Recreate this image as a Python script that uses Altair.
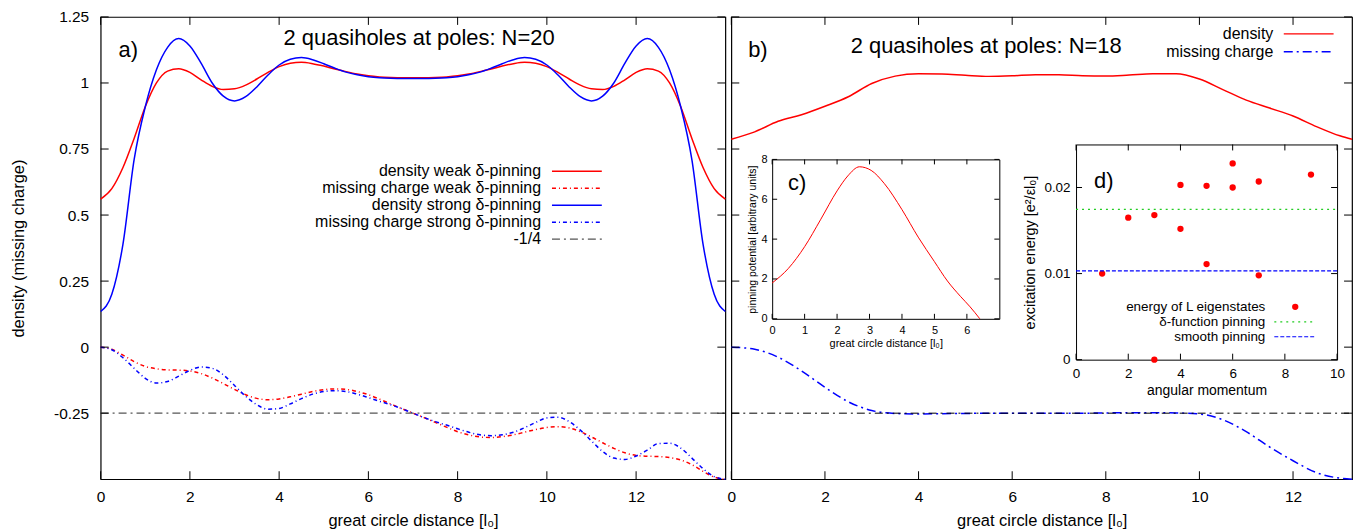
import altair as alt
import pandas as pd

# ---------------- data ----------------
xa = [0, 0.25, 0.5, 0.75, 1.0, 1.25, 1.5, 1.75, 2.0, 2.25, 2.5, 2.75, 3.0, 3.25, 3.5, 3.75,
      4.0, 4.25, 4.5, 4.75, 5.0, 5.25, 5.5, 5.75, 6.0, 6.25, 6.5, 6.75, 7.0, 7.25, 7.5, 7.75,
      8.0, 8.25, 8.5, 8.75, 9.0, 9.25, 9.5, 9.75, 10.0, 10.25, 10.5, 10.75, 11.0, 11.25, 11.5,
      11.75, 12.0, 12.25, 12.5, 12.75, 13.0, 13.25, 13.5, 13.75, 14.0]
dens_weak = [0.56, 0.60, 0.68, 0.79, 0.91, 1.0, 1.045, 1.054, 1.04, 1.012, 0.987, 0.975, 0.978,
             0.992, 1.015, 1.04, 1.062, 1.075, 1.078, 1.073, 1.064, 1.053, 1.043, 1.034, 1.027,
             1.023, 1.021, 1.02, 1.02,
             1.02, 1.021, 1.023, 1.027, 1.034, 1.043, 1.053, 1.064, 1.073, 1.078, 1.075, 1.062,
             1.04, 1.015, 0.992, 0.978, 0.975, 0.987, 1.012, 1.04, 1.054, 1.045, 1.0, 0.91, 0.79,
             0.68, 0.60, 0.56]
dens_strong = [0.135, 0.20, 0.39, 0.71, 0.91, 1.05, 1.135, 1.168, 1.14, 1.075, 1.0, 0.95, 0.932,
               0.948, 0.985, 1.03, 1.068, 1.09, 1.096, 1.088, 1.073, 1.056, 1.041, 1.031, 1.024,
               1.02, 1.018, 1.017, 1.017,
               1.017, 1.018, 1.02, 1.024, 1.031, 1.041, 1.056, 1.073, 1.088, 1.096, 1.09, 1.068,
               1.03, 0.985, 0.948, 0.932, 0.95, 1.0, 1.075, 1.14, 1.168, 1.135, 1.05, 0.91, 0.71,
               0.39, 0.20, 0.135]
mc_weak = [0, -0.008, -0.03, -0.055, -0.073, -0.082, -0.086, -0.087, -0.09, -0.1, -0.117, -0.138,
           -0.16, -0.18, -0.194, -0.199, -0.196, -0.188, -0.178, -0.168, -0.161, -0.158, -0.16,
           -0.168, -0.18, -0.197, -0.215, -0.233, -0.25,
           -0.267, -0.285, -0.303, -0.32, -0.332, -0.34, -0.342, -0.339, -0.332, -0.322, -0.312,
           -0.304, -0.301, -0.306, -0.32, -0.34, -0.362, -0.383, -0.4, -0.41, -0.413, -0.414,
           -0.418, -0.427, -0.445, -0.47, -0.492, -0.5]
mc_strong = [0, -0.01, -0.04, -0.08, -0.118, -0.136, -0.13, -0.11, -0.088, -0.075, -0.08, -0.105,
             -0.145, -0.186, -0.218, -0.235, -0.232, -0.215, -0.195, -0.178, -0.168, -0.165,
             -0.168, -0.178, -0.191, -0.205, -0.218, -0.233, -0.25,
             -0.267, -0.282, -0.295, -0.309, -0.322, -0.332, -0.335, -0.332, -0.322, -0.305,
             -0.285, -0.268, -0.265, -0.282, -0.314, -0.355, -0.395, -0.42, -0.425, -0.412,
             -0.39, -0.365, -0.364, -0.382, -0.42, -0.46, -0.49, -0.5]

xb = [0, 0.5, 1.0, 1.5, 2.0, 2.5, 3.0, 3.5, 4.0, 4.5, 5.0, 5.5, 6.0, 6.5, 7.0, 7.5, 8.0, 8.5,
      9.0, 9.5, 10.0, 10.5, 11.0, 11.5, 12.0, 12.5, 13.0, 13.26]
dens_b = [0.787, 0.815, 0.855, 0.88, 0.912, 0.948, 0.998, 1.026, 1.035, 1.034, 1.029, 1.025,
          1.027, 1.031, 1.031, 1.027, 1.026, 1.03, 1.035, 1.035, 1.015, 0.975, 0.935, 0.905,
          0.875, 0.835, 0.80, 0.787]
mc_b = [0, -0.008, -0.038, -0.09, -0.152, -0.207, -0.24, -0.251, -0.253, -0.252, -0.251, -0.25,
        -0.25, -0.25, -0.25, -0.25, -0.249, -0.248, -0.248, -0.249, -0.253, -0.275, -0.32,
        -0.378, -0.43, -0.475, -0.496, -0.5]

xc = [0, 0.5, 1.0, 1.5, 2.0, 2.33, 2.69, 3.05, 3.46, 4.0, 4.5, 5.0, 5.4, 5.8, 6.1, 6.4]
pin_c = [1.8, 2.53, 3.62, 5.0, 6.42, 7.17, 7.63, 7.45, 6.78, 5.48, 4.1, 2.87, 1.9, 1.13, 0.6, 0.0]

L_d = [1, 2, 3, 3, 4, 4, 5, 5, 6, 6, 7, 7, 9]
E_d = [0.0100, 0.0165, 0.0168, 0.0, 0.0203, 0.0152, 0.0202, 0.0111, 0.0228, 0.0200, 0.0207,
       0.0098, 0.0215]
delta_level = 0.01745
smooth_level = 0.01031
quarter = -0.25

names_a = ["density weak δ-pinning", "missing charge weak δ-pinning",
           "density strong δ-pinning", "missing charge strong δ-pinning", "-1/4"]
names_b = ["density", "missing charge"]
names_d = ["energy of L eigenstates", "δ-function pinning", "smooth pinning"]

YT = [-0.25, 0, 0.25, 0.5, 0.75, 1, 1.25]
XT = [0, 2, 4, 6, 8, 10, 12]
CT = [0, 1, 2, 3, 4, 5, 6]
CY = [0, 2, 4, 6, 8]
DX = [0, 2, 4, 6, 8, 10]
DY = [0, 0.01, 0.02]

# ---------------- helpers ----------------
FONT = "Liberation Sans"
WA, WB, H = 627, 623, 464
RED, BLUE = "#ff0000", "#0000ff"
YDOM = [-0.5, 1.25]


def sc(domain, rng=None):
    if rng is None:
        return alt.Scale(domain=domain, nice=False, zero=False)
    return alt.Scale(domain=domain, range=rng, nice=False, zero=False)


def frame_axis(orient, offset):
    return alt.Axis(orient=orient, offset=offset, labels=False, ticks=False, domain=True,
                    domainColor="black", domainWidth=1, grid=False, title=None)


def label_axis(orient, values, offset, pad, fs, title, tfs, tpad, domain=False):
    return alt.Axis(orient=orient, offset=offset, values=values, labels=True, ticks=False,
                    tickSize=0, domain=domain, domainColor="black", domainWidth=1, grid=False,
                    labelFont=FONT, labelFontSize=fs, labelColor="black", labelPadding=pad,
                    labelFlush=False, labelExpr="toString(datum.value)",
                    title=title, titleFont=FONT, titleFontSize=tfs, titleFontWeight="normal",
                    titleColor="black", titlePadding=tpad)


def leg(x, y, off, fs, dash=None, stype="M-5,0H5", ssize=100, sw=1.5):
    kw = dict(orient="none", legendX=x, legendY=y, title=None, symbolType=stype,
              symbolSize=ssize, symbolStrokeWidth=sw, labelAlign="right",
              labelOffset={"expr": str(off)},
              labelFont=FONT, labelFontSize=fs, labelColor="black", labelLimit=600, padding=0)
    if dash:
        kw["symbolDash"] = dash
    return alt.Legend(**kw)


def line(df, yf, xs, ys, xax, yax, color, width=1.5, dash=None, name=None, lg=None, opacity=1):
    mk = dict(color=color, strokeWidth=width, interpolate="monotone", opacity=opacity)
    if dash:
        mk["strokeDash"] = dash
    enc = dict(x=alt.X("x:Q", scale=xs, axis=xax), y=alt.Y(f"{yf}:Q", scale=ys, axis=yax))
    ch = alt.Chart(df).mark_line(**mk)
    if name is not None:
        ch = ch.transform_calculate(s=f"'{name}'")
        enc["color"] = alt.Color("s:N", scale=alt.Scale(domain=[name], range=[color]), legend=lg)
    return ch.encode(**enc)


def xticks(values, xs, y0, y1):
    return alt.Chart(pd.DataFrame({"v": values})).mark_rule(color="black", strokeWidth=1).encode(
        x=alt.X("v:Q", scale=xs, axis=None), y=alt.value(y0), y2=alt.value(y1))


def yticks(values, ys, x0, x1):
    return alt.Chart(pd.DataFrame({"v": values})).mark_rule(color="black", strokeWidth=1).encode(
        y=alt.Y("v:Q", scale=ys, axis=None), x=alt.value(x0), x2=alt.value(x1))


def txt(xs, ys, x, y, t, fs):
    return alt.Chart(pd.DataFrame({"x": [x], "y": [y], "t": [t]})).mark_text(
        align="left", baseline="alphabetic", font=FONT, fontSize=fs, color="black"
    ).encode(x=alt.X("x:Q", scale=xs, axis=None), y=alt.Y("y:Q", scale=ys, axis=None), text="t:N")


# ---------------- panel a ----------------
dfa = pd.DataFrame({"x": xa, "dw": dens_weak, "ds": dens_strong, "mw": mc_weak, "ms": mc_strong})
dfqa = pd.DataFrame({"x": [xa[0], xa[-1]], "y": [quarter, quarter]})
sxa, sya = sc([0, 14]), sc(YDOM)
XTITLE = "great circle distance [l₀]"
MCDASH = [4, 3, 1, 3]
QDASH = [8, 4, 2, 4]

layers_a = [
    line(dfa, "dw", sxa, sya,
         label_axis("bottom", XT, 0, 10, 15.5, XTITLE, 16.5, 8),
         label_axis("left", YT, 0, 12, 15.5, "density (missing charge)", 16.5, 27),
         RED, name=names_a[0], lg=leg(470, 147, -44, 16)),
    line(dfa, "mw", sxa, sya, None, None,
         RED, dash=MCDASH, name=names_a[1], lg=leg(470, 164, -44, 16, dash=MCDASH)),
    line(dfa, "ds", sxa, sya, None, None,
         BLUE, name=names_a[2], lg=leg(470, 181, -44, 16)),
    line(dfa, "ms", sxa, sya, None, None,
         BLUE, dash=MCDASH, name=names_a[3], lg=leg(470, 198, -44, 16, dash=MCDASH)),
    line(dfqa, "y", sxa, sya, None, None, "#555555", width=1.2, dash=QDASH,
         name=names_a[4], lg=leg(470, 215, -44, 16, dash=QDASH, sw=1.2)),
    xticks(XT, sxa, H, H - 8), xticks(XT, sxa, 0, 8),
    yticks(YT, sya, 0, 8), yticks(YT, sya, WA, WA - 8),
    txt(sxa, sya, 0.40, 1.098, "a)", 22),
    txt(sxa, sya, 4.10, 1.142, "2 quasiholes at poles: N=20", 22),
]
panel_a = alt.layer(*layers_a).resolve_scale(
    x="independent", y="independent", color="independent").properties(width=WA, height=H)

# ---------------- panel b ----------------
dfb = pd.DataFrame({"x": xb, "d": dens_b, "m": mc_b})
dfqb = pd.DataFrame({"x": [xb[0], xb[-1]], "y": [quarter, quarter]})
dfc = pd.DataFrame({"x": xc, "v": pin_c})
dfd = pd.DataFrame({"L": L_d, "E": E_d})
dfg = pd.DataFrame({"x0": [0], "x1": [10], "y": [delta_level]})
dfs = pd.DataFrame({"x0": [0], "x1": [10], "y": [smooth_level]})
sxb, syb = sc([0, 13.26]), sc(YDOM)
sxc, syc = sc([0, 7], [41, 269]), sc([0, 8], [303, 143])
sxd, syd = sc([0, 10], [346, 608]), sc([0, 0.025], [344, 128])
BDASH = [9, 4, 2, 4]


def drule(df, name, color, dash, xax, yax, lg):
    return alt.Chart(df).mark_rule(strokeDash=dash, strokeWidth=1.2).transform_calculate(
        s=f"'{name}'").encode(
        x=alt.X("x0:Q", scale=sxd, axis=xax), x2="x1:Q",
        y=alt.Y("y:Q", scale=syd, axis=yax),
        color=alt.Color("s:N", scale=alt.Scale(domain=[name], range=[color]), legend=lg))


layers_b = [
    line(dfb, "d", sxb, syb,
         label_axis("bottom", XT, 0, 10, 15.5, XTITLE, 16.5, 8), None,
         RED, name=names_b[0], lg=leg(571.5, 9, -43.5, 16)),
    line(dfb, "m", sxb, syb, None, None,
         BLUE, dash=BDASH, name=names_b[1], lg=leg(571.5, 27, -43.5, 16, dash=BDASH)),
    line(dfqb, "y", sxb, syb, None, None, "black", width=1, dash=QDASH),
    xticks(XT, sxb, H, H - 8), xticks(XT, sxb, 0, 8),
    yticks(YT, syb, 0, 8), yticks(YT, syb, WB, WB - 8),
    # inset c
    line(dfc, "v", sxc, syc,
         label_axis("bottom", CT, -161, 6, 11, XTITLE, 11, 2, domain=True),
         label_axis("left", CY, -41, 5, 11,
                    "pinning potential [arbitrary units]", 10.5, 4, domain=True),
         RED, width=1),
    line(dfc, "v", sxc, syc, frame_axis("bottom", -321), frame_axis("left", -269),
         RED, width=1, opacity=0),
    xticks(CT, sxc, 303, 298), xticks(CT, sxc, 143, 148),
    yticks(CY, syc, 41, 46), yticks(CY, syc, 269, 264),
    # inset d
    alt.Chart(dfd).mark_circle(size=40, opacity=1).transform_calculate(s=f"'{names_d[0]}'").encode(
        x=alt.X("L:Q", scale=sxd,
                axis=label_axis("bottom", DX, -120, 7, 13.5, "angular momentum", 14, 3, domain=True)),
        y=alt.Y("E:Q", scale=syd,
                axis=label_axis("left", DY, -346, 6, 13.5,
                                "excitation energy [e²/εl₀]", 14.5, 6, domain=True)),
        color=alt.Color("s:N", scale=alt.Scale(domain=[names_d[0]], range=[RED]),
                        legend=leg(559.25, 284.25, -36.75, 13.5, stype="circle", ssize=40, sw=0))),
    drule(dfg, names_d[1], "#22cc22", [2, 4], None, None,
          leg(558.25, 299.25, -35.75, 13.5, dash=[2, 4], stype="M-4,0H4", sw=1.2)),
    drule(dfs, names_d[2], BLUE, [4, 2], frame_axis("bottom", -336), frame_axis("left", -608),
          leg(558.25, 314.25, -35.75, 13.5, dash=[4, 2], stype="M-4,0H4", sw=1.2)),
    xticks(DX, sxd, 344, 338), xticks(DX, sxd, 128, 134),
    yticks(DY, syd, 346, 352), yticks(DY, syd, 608, 602),
    txt(sxb, syb, 0.36, 1.098, "b)", 22),
    txt(sxb, syb, 2.55, 1.112, "2 quasiholes at poles: N=18", 22),
    txt(sxc, syc, 0.49, 6.45, "c)", 22),
    txt(sxd, syd, 0.69, 0.0199, "d)", 22),
]
panel_b = alt.layer(*layers_b).resolve_scale(
    x="independent", y="independent", color="independent").properties(width=WB, height=H)

chart = alt.hconcat(panel_a, panel_b, spacing=6, bounds="flush").properties(
    padding={"left": 2, "top": 0, "right": 2, "bottom": 0}
).configure(font=FONT).configure_view(stroke="black", strokeWidth=1.2).configure_axis(grid=False)

chart.save("out.html", embed_options={"renderer": "svg", "actions": False})
